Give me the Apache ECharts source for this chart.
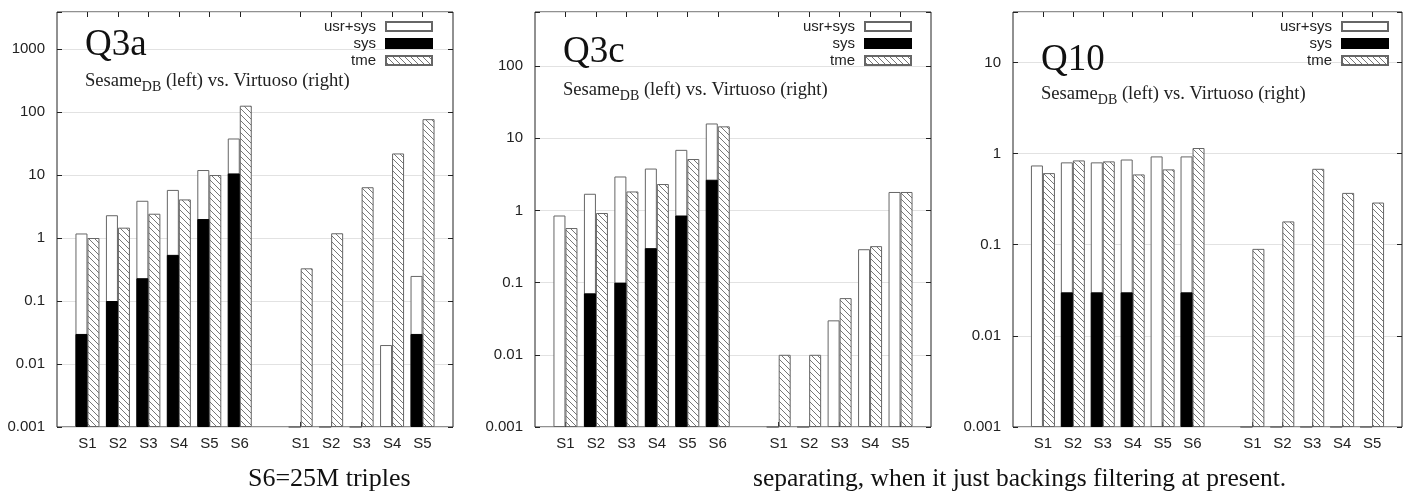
<!DOCTYPE html>
<html>
<head>
<meta charset="utf-8">
<title>Q3a / Q3c / Q10</title>
<script src="https://cdn.jsdelivr.net/npm/echarts/dist/echarts.min.js"></script>
<style>
  html, body { margin: 0; padding: 0; background: #fff; }
  #chart { width: 1415px; height: 493px; }
</style>
</head>
<body>
<div id="chart"></div>
<script>
// categories: Sesame_DB S1..S6 (left), Virtuoso S1..S5 (right)
const sesameLabels = ['S1', 'S2', 'S3', 'S4', 'S5', 'S6'];
const virtuosoLabels = ['S1', 'S2', 'S3', 'S4', 'S5'];
const legendNames = ['usr+sys', 'sys', 'tme'];

// y axis top of each panel (log scale, bottom is 0.001)
const yMin = 0.001;
const yMax = [3870, 560, 35.7];

// Q3a  (first 6 = Sesame, last 5 = Virtuoso)
const q3aUsrSys = [1.18, 2.3, 3.9, 5.8, 12, 38, 0.001, 0.001, 0.001, 0.02, 0.25];
const q3aSys    = [0.03, 0.1, 0.23, 0.54, 2.0, 10.6, null, null, null, null, 0.03];
const q3aTme    = [1.0, 1.46, 2.43, 4.1, 10, 126, 0.33, 1.19, 6.4, 22, 77];

// Q3c
const q3cUsrSys = [0.85, 1.7, 2.95, 3.8, 6.9, 16, 0.001, 0.001, 0.03, 0.29, 1.8];
const q3cSys    = [null, 0.071, 0.1, 0.3, 0.85, 2.66, null, null, null, null, null];
const q3cTme    = [0.57, 0.92, 1.83, 2.32, 5.15, 14.6, 0.01, 0.01, 0.061, 0.32, 1.8];

// Q10
const q10UsrSys = [0.74, 0.8, 0.8, 0.86, 0.93, 0.93, 0.001, 0.001, 0.001, 0.001, 0.001];
const q10Sys    = [null, 0.03, 0.03, 0.03, null, 0.03, null, null, null, null, null];
const q10Tme    = [0.61, 0.84, 0.82, 0.59, 0.67, 1.15, 0.09, 0.18, 0.68, 0.37, 0.29];

const captions = ['S6=25M triples', 'separating, when it just backings filtering at present.'];

// ---- layout ----
const panels = [
  { name: 'Q3a', usrSys: q3aUsrSys, sys: q3aSys, tme: q3aTme, left: 57, width: 396, titleTop: 27, subTop: 72, legendRight: 982 },
  { name: 'Q3c', usrSys: q3cUsrSys, sys: q3cSys, tme: q3cTme, left: 535, width: 396, titleTop: 34, subTop: 81, legendRight: 503 },
  { name: 'Q10', usrSys: q10UsrSys, sys: q10Sys, tme: q10Tme, left: 1013, width: 389, titleTop: 42, subTop: 85, legendRight: 26 }
];
const gridTop = 12;
const gridHeight = 415;

// category slots: empty, S1..S6, empty, S1..S5, empty
const slotLabels = [''].concat(sesameLabels, [''], virtuosoLabels, ['']);
const slotKeys = slotLabels.map((l, i) => i + ':' + l);

function toSlots(arr) {
  const n = sesameLabels.length;
  return [null].concat(arr.slice(0, n), [null], arr.slice(n), [null]);
}

// hatch pattern "\\\\"
function makeHatch() {
  const c = document.createElement('canvas');
  c.width = 6; c.height = 6;
  const ctx = c.getContext('2d');
  ctx.fillStyle = '#fff';
  ctx.fillRect(0, 0, 6, 6);
  ctx.strokeStyle = '#777';
  ctx.lineWidth = 1;
  ctx.beginPath();
  ctx.moveTo(-1, -1); ctx.lineTo(7, 7);
  ctx.moveTo(5, -1); ctx.lineTo(7, 1);
  ctx.moveTo(-1, 5); ctx.lineTo(1, 7);
  ctx.stroke();
  return c;
}
const hatch = makeHatch();

const sansFont = 'Liberation Sans';
const serifFont = 'Liberation Serif';

function yLabel(v) {
  const l = Math.log10(v);
  if (Math.abs(l - Math.round(l)) > 1e-6) return '';
  return String(Math.pow(10, Math.round(l)));
}

const grid = [], xAxis = [], yAxis = [], series = [], legend = [], title = [];

panels.forEach((p, g) => {
  grid.push({
    left: p.left, top: gridTop, width: p.width, height: gridHeight,
    show: true, borderColor: '#222', borderWidth: 1, backgroundColor: 'transparent'
  });
  const tickInterval = (idx) => slotLabels[idx] !== '';
  // bottom axis (usr+sys, tme)
  xAxis.push({
    gridIndex: g, type: 'category', data: slotKeys, boundaryGap: false, position: 'bottom',
    axisLine: { show: false },
    axisTick: { show: true, inside: true, length: 5, interval: tickInterval, lineStyle: { color: '#222' } },
    axisLabel: {
      interval: 0, margin: 9, color: '#222', fontFamily: sansFont, fontSize: 15,
      formatter: v => v.split(':')[1]
    }
  });
  // top axis (sys overlay + mirror ticks)
  xAxis.push({
    gridIndex: g, type: 'category', data: slotKeys, boundaryGap: false, position: 'top',
    axisLine: { show: false },
    axisTick: { show: true, inside: true, length: 5, interval: tickInterval, lineStyle: { color: '#222' } },
    axisLabel: { show: false }
  });
  const yBase = {
    gridIndex: g, type: 'log', logBase: 10, min: yMin, max: yMax[g], startValue: yMin,
    axisLine: { show: false },
    axisTick: { show: true, inside: true, length: 5, lineStyle: { color: '#222' } }
  };
  yAxis.push(Object.assign({}, yBase, {
    position: 'left',
    axisLabel: { margin: 12, color: '#222', fontFamily: sansFont, fontSize: 15, formatter: yLabel },
    splitLine: { show: true, lineStyle: { color: '#e2e2e2', width: 1 } }
  }));
  yAxis.push(Object.assign({}, yBase, {
    position: 'right',
    axisLabel: { show: false },
    splitLine: { show: false }
  }));

  const xb = g * 2, xt = g * 2 + 1, yl = g * 2;
  series.push({
    name: 'usr+sys', type: 'bar', xAxisIndex: xb, yAxisIndex: yl,
    barWidth: 12, barGap: 0, data: toSlots(p.usrSys),
    itemStyle: { color: '#fff', borderColor: '#666', borderWidth: 1 }
  });
  series.push({
    name: 'tme', type: 'bar', xAxisIndex: xb, yAxisIndex: yl,
    barWidth: 12, barGap: 0, data: toSlots(p.tme),
    itemStyle: { color: { image: hatch, repeat: 'repeat' }, borderColor: '#666', borderWidth: 1 }
  });
  series.push({
    name: 'sys', type: 'bar', xAxisIndex: xt, yAxisIndex: yl,
    barWidth: 12, barGap: 0, data: toSlots(p.sys),
    itemStyle: { color: '#000', borderColor: '#000', borderWidth: 1 }
  });
  // empty slot so the sys bar sits on the left half like usr+sys
  series.push({
    name: '_pad' + g, type: 'bar', xAxisIndex: xt, yAxisIndex: yl,
    barWidth: 12, barGap: 0, data: toSlots(p.sys.map(() => null)), silent: true
  });

  legend.push({
    data: legendNames, orient: 'vertical', align: 'right', icon: 'rect',
    right: p.legendRight, top: 19, padding: 0, itemGap: 2, itemWidth: 46, itemHeight: 9,
    selectedMode: false,
    textStyle: { color: '#222', fontFamily: sansFont, fontSize: 15, padding: [0, 5, 0, 0] }
  });

  title.push({
    text: p.name, left: p.left + 28, top: p.titleTop, padding: 0,
    textStyle: { fontFamily: serifFont, fontSize: 37, fontWeight: 'normal', color: '#111' }
  });
  // "Sesame" with subscript "DB"
  title.push({
    text: '{a|Sesame}{b|DB}{a| (left) vs. Virtuoso (right)}', left: p.left + 28, top: p.subTop, padding: 0,
    textStyle: {
      fontWeight: 'normal',
      rich: {
        a: { fontFamily: serifFont, fontSize: 18.6, fontWeight: 'normal', color: '#222', lineHeight: 22, padding: [0, 0, 3, 0], verticalAlign: 'bottom' },
        b: { fontFamily: serifFont, fontSize: 14, fontWeight: 'normal', color: '#222', lineHeight: 14, verticalAlign: 'bottom' }
      }
    }
  });
});

title.push({
  text: captions[0], left: 248, top: 466, padding: 0,
  textStyle: { fontFamily: serifFont, fontSize: 26, fontWeight: 'normal', color: '#111' }
});
title.push({
  text: captions[1], left: 753, top: 466, padding: 0,
  textStyle: { fontFamily: serifFont, fontSize: 25.5, fontWeight: 'normal', color: '#111' }
});

const chart = echarts.init(document.getElementById('chart'));
chart.setOption({
  animation: false,
  backgroundColor: '#fff',
  title: title,
  legend: legend,
  grid: grid,
  xAxis: xAxis,
  yAxis: yAxis,
  series: series
});
</script>
</body>
</html>
